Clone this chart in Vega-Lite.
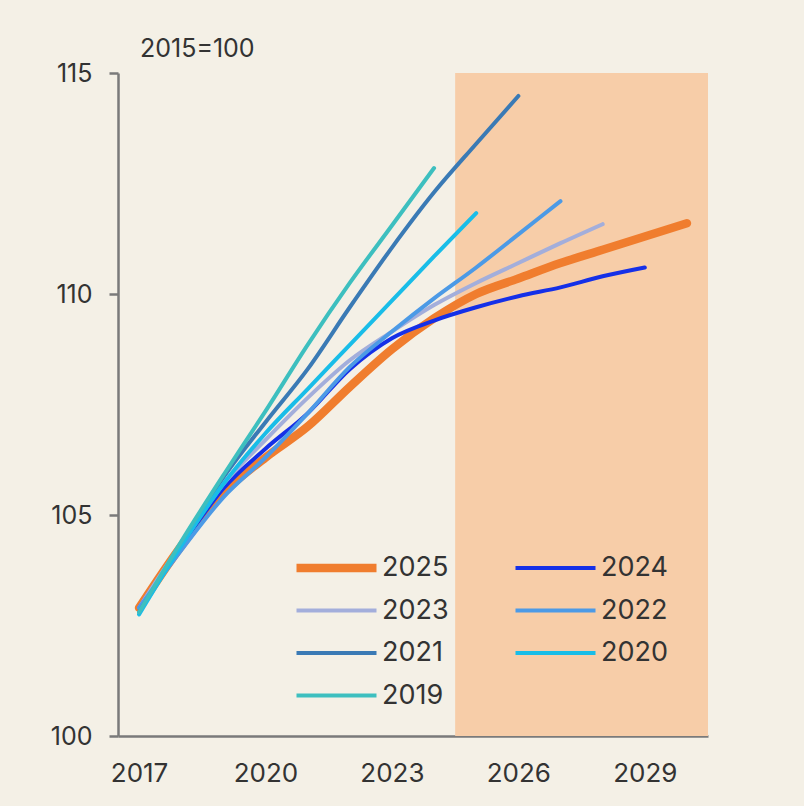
{
  "$schema": "https://vega.github.io/schema/vega-lite/v6.json",
  "width": 590,
  "height": 663,
  "autosize": {"type": "none"},
  "padding": {"left": 118, "top": 73, "right": 96, "bottom": 70},
  "background": "#F4F0E6",
  "config": {"view": {"stroke": null}, "font": "Inter"},
  "title": {"text": "2015=100", "anchor": "start", "frame": "group", "fontSize": 25, "fontWeight": "normal", "color": "#333333", "dx": 22, "offset": -1},
  "layer": [
    {
      "data": {"values": [{"start": 2024.5, "end": 2030.5}]},
      "mark": {"type": "rect", "color": "#F7CDA8"},
      "encoding": {
        "x": {"field": "start", "type": "quantitative"},
        "x2": {"field": "end"},
        "y": {"datum": 100, "type": "quantitative"},
        "y2": {"datum": 115}
      }
    },
    {
      "data": {"values": [
        {"vintage": "2025", "year": 2017, "value": 102.9},
        {"vintage": "2025", "year": 2018, "value": 104.3},
        {"vintage": "2025", "year": 2019, "value": 105.5},
        {"vintage": "2025", "year": 2020, "value": 106.3},
        {"vintage": "2025", "year": 2021, "value": 107.0},
        {"vintage": "2025", "year": 2022, "value": 107.9},
        {"vintage": "2025", "year": 2023, "value": 108.75},
        {"vintage": "2025", "year": 2024, "value": 109.45},
        {"vintage": "2025", "year": 2025, "value": 110.0},
        {"vintage": "2025", "year": 2026, "value": 110.35},
        {"vintage": "2025", "year": 2027, "value": 110.7},
        {"vintage": "2025", "year": 2028, "value": 111.0},
        {"vintage": "2025", "year": 2029, "value": 111.3},
        {"vintage": "2025", "year": 2030, "value": 111.6},
        {"vintage": "2024", "year": 2017, "value": 102.9},
        {"vintage": "2024", "year": 2018, "value": 104.3},
        {"vintage": "2024", "year": 2019, "value": 105.6},
        {"vintage": "2024", "year": 2020, "value": 106.5},
        {"vintage": "2024", "year": 2021, "value": 107.3},
        {"vintage": "2024", "year": 2022, "value": 108.3},
        {"vintage": "2024", "year": 2023, "value": 109.0},
        {"vintage": "2024", "year": 2024, "value": 109.4},
        {"vintage": "2024", "year": 2025, "value": 109.7},
        {"vintage": "2024", "year": 2026, "value": 109.95},
        {"vintage": "2024", "year": 2027, "value": 110.15},
        {"vintage": "2024", "year": 2028, "value": 110.4},
        {"vintage": "2024", "year": 2029, "value": 110.6},
        {"vintage": "2023", "year": 2017, "value": 102.9},
        {"vintage": "2023", "year": 2018, "value": 104.35},
        {"vintage": "2023", "year": 2019, "value": 105.7},
        {"vintage": "2023", "year": 2020, "value": 106.7},
        {"vintage": "2023", "year": 2021, "value": 107.65},
        {"vintage": "2023", "year": 2022, "value": 108.5},
        {"vintage": "2023", "year": 2023, "value": 109.15},
        {"vintage": "2023", "year": 2024, "value": 109.75},
        {"vintage": "2023", "year": 2025, "value": 110.25},
        {"vintage": "2023", "year": 2026, "value": 110.7},
        {"vintage": "2023", "year": 2027, "value": 111.15},
        {"vintage": "2023", "year": 2028, "value": 111.58},
        {"vintage": "2022", "year": 2017, "value": 102.9},
        {"vintage": "2022", "year": 2018, "value": 104.2},
        {"vintage": "2022", "year": 2019, "value": 105.4},
        {"vintage": "2022", "year": 2020, "value": 106.3},
        {"vintage": "2022", "year": 2021, "value": 107.3},
        {"vintage": "2022", "year": 2022, "value": 108.35},
        {"vintage": "2022", "year": 2023, "value": 109.15},
        {"vintage": "2022", "year": 2024, "value": 109.9},
        {"vintage": "2022", "year": 2025, "value": 110.6},
        {"vintage": "2022", "year": 2026, "value": 111.35},
        {"vintage": "2022", "year": 2027, "value": 112.1},
        {"vintage": "2021", "year": 2017, "value": 102.8},
        {"vintage": "2021", "year": 2018, "value": 104.35},
        {"vintage": "2021", "year": 2019, "value": 105.85},
        {"vintage": "2021", "year": 2020, "value": 107.1},
        {"vintage": "2021", "year": 2021, "value": 108.3},
        {"vintage": "2021", "year": 2022, "value": 109.7},
        {"vintage": "2021", "year": 2023, "value": 111.05},
        {"vintage": "2021", "year": 2024, "value": 112.3},
        {"vintage": "2021", "year": 2025, "value": 113.4},
        {"vintage": "2021", "year": 2026, "value": 114.48},
        {"vintage": "2020", "year": 2017, "value": 102.75},
        {"vintage": "2020", "year": 2018, "value": 104.3},
        {"vintage": "2020", "year": 2019, "value": 105.7},
        {"vintage": "2020", "year": 2020, "value": 106.85},
        {"vintage": "2020", "year": 2021, "value": 107.85},
        {"vintage": "2020", "year": 2022, "value": 108.85},
        {"vintage": "2020", "year": 2023, "value": 109.85},
        {"vintage": "2020", "year": 2024, "value": 110.85},
        {"vintage": "2020", "year": 2025, "value": 111.83},
        {"vintage": "2019", "year": 2017, "value": 102.8},
        {"vintage": "2019", "year": 2018, "value": 104.4},
        {"vintage": "2019", "year": 2019, "value": 105.9},
        {"vintage": "2019", "year": 2020, "value": 107.35},
        {"vintage": "2019", "year": 2021, "value": 108.85},
        {"vintage": "2019", "year": 2022, "value": 110.25},
        {"vintage": "2019", "year": 2023, "value": 111.55},
        {"vintage": "2019", "year": 2024, "value": 112.85}
      ]},
      "mark": {"type": "line", "interpolate": "monotone", "strokeCap": "round"},
      "encoding": {
        "x": {
          "field": "year", "type": "quantitative",
          "scale": {"domain": [2016.5, 2030.5], "nice": false, "zero": false},
          "axis": {"values": [2017, 2020, 2023, 2026, 2029], "format": "d", "title": null, "grid": false, "ticks": false, "labelPadding": 24, "labelFontSize": 26, "labelColor": "#333333", "domainColor": "#7a7a7a", "domainWidth": 2.5, "labelFlush": false}
        },
        "y": {
          "field": "value", "type": "quantitative",
          "scale": {"domain": [100, 115], "nice": false, "zero": false},
          "axis": {"values": [100, 105, 110, 115], "title": null, "grid": false, "tickSize": 9, "tickWidth": 2.5, "tickColor": "#7a7a7a", "labelPadding": 17, "labelFontSize": 25, "labelColor": "#333333", "domainColor": "#7a7a7a", "domainWidth": 2.5}
        },
        "color": {
          "field": "vintage", "type": "nominal",
          "scale": {"domain": ["2025", "2024", "2023", "2022", "2021", "2020", "2019"], "range": ["#F07D2E", "#1530E8", "#A3AEDB", "#4C9AE6", "#3A7AB5", "#19BDE8", "#3DBFBF"]},
          "legend": {"orient": "none", "legendX": 174, "legendY": 480, "direction": "horizontal", "columns": 2, "title": null, "symbolType": "stroke", "symbolSize": 6400, "clipHeight": 30, "labelFontSize": 27, "labelColor": "#333333", "labelOffset": 1, "columnPadding": 62, "rowPadding": 12.5}
        },
        "strokeWidth": {
          "field": "vintage", "type": "nominal",
          "scale": {"type": "ordinal", "domain": ["2025", "2024", "2023", "2022", "2021", "2020", "2019"], "range": [8.5, 4, 4, 4, 4, 4, 4]},
          "legend": {"orient": "none", "legendX": 174, "legendY": 480, "direction": "horizontal", "columns": 2, "title": null, "symbolType": "stroke", "symbolSize": 6400, "clipHeight": 30, "labelFontSize": 27, "labelColor": "#333333", "labelOffset": 1, "columnPadding": 62, "rowPadding": 12.5}
        }
      }
    }
  ]
}
